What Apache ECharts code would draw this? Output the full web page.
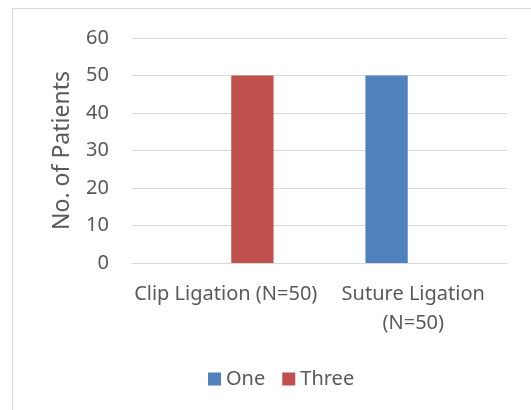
<!DOCTYPE html>
<html>
<head>
<meta charset="utf-8">
<script src="https://cdn.jsdelivr.net/npm/echarts@6/dist/echarts.min.js"></script>
<style>
html,body{margin:0;padding:0;background:#fff;}
#frame{position:absolute;left:12px;top:8px;width:600px;height:600px;border:1px solid #d9d9d9;box-sizing:border-box;}
#chart{position:absolute;left:0;top:0;width:531px;height:410px;}
</style>
</head>
<body>
<div id="frame"></div>
<div id="chart"></div>
<script>
var categories = ['Clip Ligation (N=50)', 'Suture Ligation\n(N=50)'];
var seriesNames = ['One', 'Three'];
var oneValues = [0, 50];
var threeValues = [50, 0];
var yTicks = {min: 0, max: 60, interval: 10};

var font = 'Noto Sans';
var textColor = '#595959';
var chart = echarts.init(document.getElementById('chart'), null, {renderer: 'canvas'});
chart.setOption({
  animation: false,
  backgroundColor: 'transparent',
  grid: {left: 132, right: 24, top: 38, bottom: 147, containLabel: false},
  legend: {
    data: seriesNames,
    top: 364,
    left: 203,
    itemWidth: 13,
    itemHeight: 13,
    itemGap: 17,
    icon: 'rect',
    textStyle: {color: textColor, fontFamily: font, fontSize: 20}
  },
  xAxis: {
    type: 'category',
    data: categories,
    axisLine: {show: true, lineStyle: {color: '#d9d9d9', width: 1}},
    axisTick: {show: false},
    axisLabel: {color: textColor, fontFamily: font, fontSize: 20, margin: 17, lineHeight: 29, interval: 0}
  },
  yAxis: {
    type: 'value',
    min: yTicks.min,
    max: yTicks.max,
    interval: yTicks.interval,
    name: 'No. of Patients',
    nameLocation: 'middle',
    nameGap: 58,
    nameTextStyle: {color: textColor, fontFamily: font, fontSize: 23},
    axisLine: {show: false},
    axisTick: {show: false},
    axisLabel: {color: textColor, fontFamily: font, fontSize: 20, margin: 23},
    splitLine: {lineStyle: {color: '#d9d9d9', width: 1}}
  },
  series: [
    {name: 'One', type: 'bar', data: oneValues, itemStyle: {color: '#4f81bd'}, barGap: '26%', barCategoryGap: '49%'},
    {name: 'Three', type: 'bar', data: threeValues, itemStyle: {color: '#c0504d'}, barGap: '26%', barCategoryGap: '49%'}
  ]
});
</script>
</body>
</html>
